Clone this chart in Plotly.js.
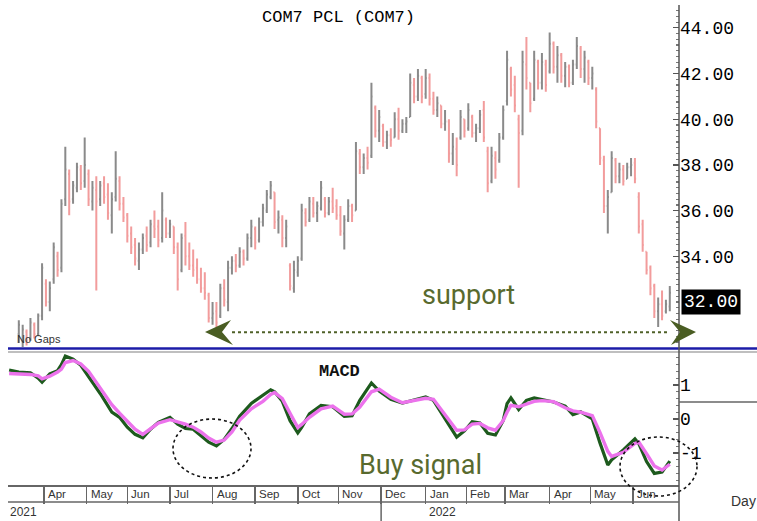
<!DOCTYPE html>
<html><head><meta charset="utf-8">
<script src="https://cdn.plot.ly/plotly-3.0.1.min.js"></script>
<style>html,body{margin:0;padding:0;background:#fff;}#chart{width:757px;height:521px;}</style>
</head><body><div id="chart"></div>
<script>
// ---------- DATA ----------
const dates = [
'2021-03-15','2021-03-17','2021-03-19','2021-03-23','2021-03-25',
'2021-03-29','2021-03-31','2021-04-02','2021-04-06','2021-04-08',
'2021-04-12','2021-04-14','2021-04-16','2021-04-20','2021-04-22',
'2021-04-26','2021-04-28','2021-04-30','2021-05-04','2021-05-06',
'2021-05-10','2021-05-12','2021-05-14','2021-05-18','2021-05-20',
'2021-05-24','2021-05-26','2021-05-28','2021-06-01','2021-06-03',
'2021-06-07','2021-06-09','2021-06-11','2021-06-15','2021-06-17',
'2021-06-21','2021-06-23','2021-06-25','2021-06-29','2021-07-01',
'2021-07-05','2021-07-07','2021-07-09','2021-07-13','2021-07-15',
'2021-07-19','2021-07-21','2021-07-23','2021-07-27','2021-07-29',
'2021-08-02','2021-08-04','2021-08-06','2021-08-10','2021-08-12',
'2021-08-16','2021-08-18','2021-08-20','2021-08-24','2021-08-26',
'2021-08-30','2021-09-01','2021-09-03','2021-09-07','2021-09-09',
'2021-09-13','2021-09-15','2021-09-17','2021-09-21','2021-09-23',
'2021-09-27','2021-09-29','2021-10-01','2021-10-05','2021-10-07',
'2021-10-11','2021-10-13','2021-10-15','2021-10-19','2021-10-21',
'2021-10-25','2021-10-27','2021-10-29','2021-11-02','2021-11-04',
'2021-11-08','2021-11-10','2021-11-12','2021-11-16','2021-11-18',
'2021-11-22','2021-11-24','2021-11-26','2021-11-30','2021-12-02',
'2021-12-06','2021-12-08','2021-12-10','2021-12-14','2021-12-16',
'2021-12-20','2021-12-22','2021-12-24','2021-12-28','2021-12-30',
'2022-01-03','2022-01-05','2022-01-07','2022-01-11','2022-01-13',
'2022-01-17','2022-01-19','2022-01-21','2022-01-25','2022-01-27',
'2022-01-31','2022-02-02','2022-02-04','2022-02-08','2022-02-10',
'2022-02-14','2022-02-16','2022-02-18','2022-02-22','2022-02-24',
'2022-02-28','2022-03-02','2022-03-04','2022-03-08','2022-03-10',
'2022-03-14','2022-03-16','2022-03-18','2022-03-22','2022-03-24',
'2022-03-28','2022-03-30','2022-04-01','2022-04-05','2022-04-07',
'2022-04-11','2022-04-13','2022-04-15','2022-04-19','2022-04-21',
'2022-04-25','2022-04-27','2022-04-29','2022-05-03','2022-05-05',
'2022-05-09','2022-05-11','2022-05-13','2022-05-17','2022-05-19',
'2022-05-23','2022-05-25','2022-05-27','2022-05-31','2022-06-02',
'2022-06-06','2022-06-08','2022-06-10','2022-06-14','2022-06-16',
'2022-06-20','2022-06-22','2022-06-24','2022-06-28'];

const openP = [
30.6,30.3,30.7,30.4,31.0, 30.6,31.4,32.8,32.0,33.0, 34.0,33.5,36.5,37.6,36.5,
37.0,37.8,37.3,37.6,36.4, 36.9,36.5,37.2,36.7,35.8, 36.6,37.3,36.3,35.8,35.0,
34.5,33.8,34.3,34.9,34.6, 35.3,35.3,34.8,35.6,35.0, 35.3,34.4,33.4,34.9,34.0,
33.6,33.5,33.0,32.6,32.3, 31.3,31.6,31.4,32.6,32.0, 33.5,33.8,33.6,34.2,33.9,
34.8,35.2,34.7,35.5,36.0, 36.6,36.8,35.6,35.6,34.8, 33.6,32.6,33.3,33.9,35.9,
35.6,36.3,35.9,36.1,36.5, 35.9,36.4,36.2,35.8,35.0, 35.6,36.2,36.0,38.5,37.9,
38.3,38.4,40.5,39.5,39.7, 39.0,39.3,39.2,40.0,39.5, 39.8,40.1,41.5,41.0,41.8,
41.1,41.8,40.9,40.4,40.6, 39.8,39.9,38.5,38.7,39.2, 40.0,39.6,40.1,39.4,39.6,
40.4,38.6,37.3,38.3,38.2, 39.2,40.8,42.2,41.5,40.0, 39.5,42.4,41.6,40.9,42.5,
41.6,42.4,42.1,43.3,42.3, 42.8,41.9,42.3,41.6,42.4, 43.1,42.2,42.5,41.8,41.3,
39.6,38.2,36.2,36.8,38.2, 37.5,37.8,37.4,37.9,38.1, 36.6,35.4,34.2,33.5,32.7,
31.6,31.9,31.6,31.8];

const highP = [
31.2,31.0,30.8,31.3,31.1, 31.5,33.7,33.0,32.9,34.6, 34.2,36.5,38.8,37.8,37.3,
38.1,38.0,39.2,37.8,37.3, 37.5,37.3,37.5,37.2,36.8, 38.6,37.5,36.6,35.9,35.3,
34.8,34.6,35.0,35.3,35.6, 36.0,35.6,36.8,35.7,35.6, 35.3,34.6,35.0,35.5,34.6,
34.3,33.9,33.5,33.3,32.4, 32.0,32.0,32.8,33.0,33.8, 34.0,34.1,34.4,34.3,35.0,
35.6,35.3,35.7,36.3,36.9, 37.3,36.8,36.0,35.8,35.6, 33.7,33.8,34.0,36.3,36.1,
36.6,36.6,36.4,37.3,36.6, 36.6,37.0,36.5,36.2,35.8, 36.5,36.3,39.0,38.7,38.5,
38.8,41.6,40.6,40.4,39.8, 39.5,39.6,40.3,40.5,40.0, 40.1,42.0,41.8,42.2,41.9,
42.2,42.0,41.2,41.0,40.6, 40.4,40.0,39.4,39.2,40.4, 40.0,40.7,40.2,39.8,40.4,
40.8,38.8,38.8,38.6,39.4, 40.6,43.0,42.3,41.9,40.2, 43.0,43.6,41.6,43.0,42.6,
42.9,42.6,43.8,43.4,43.2, 42.9,42.5,42.4,42.6,43.6, 43.2,43.0,42.6,42.3,41.4,
39.6,38.4,36.9,38.6,38.3, 38.1,38.0,38.1,38.3,38.3, 36.8,35.6,34.2,33.6,32.8,
32.2,32.5,32.1,32.7];

const lowP = [
30.2,30.0,30.1,30.3,30.4, 30.5,31.2,31.8,31.6,32.8, 33.1,33.3,36.2,35.8,36.3,
36.8,36.9,37.0,36.2,36.0, 32.5,36.2,36.3,35.6,35.0, 36.4,36.0,35.5,34.6,34.1,
33.6,33.4,34.1,34.2,34.4, 34.8,34.4,34.6,34.8,34.8, 34.1,32.5,33.3,33.6,33.4,
33.1,32.8,32.4,32.1,31.1, 31.0,30.9,31.3,31.8,31.6, 33.2,33.3,33.5,33.6,33.8,
34.4,34.3,34.6,35.3,35.9, 36.5,35.2,35.0,34.4,34.4, 32.5,32.4,33.1,33.8,35.3,
35.5,35.7,35.5,36.0,35.7, 35.8,35.9,35.6,34.9,34.3, 35.5,35.5,36.0,37.6,37.6,
37.8,38.3,39.2,39.0,38.8, 38.7,38.8,39.2,39.1,39.4, 39.4,40.1,40.7,40.8,40.7,
40.9,40.6,40.2,40.1,39.6, 39.5,38.1,38.0,37.5,39.1, 39.2,39.5,39.2,39.0,39.4,
39.0,36.8,37.2,37.4,38.1, 39.1,40.6,41.0,40.3,37.0, 39.3,41.3,40.3,40.8,41.3,
41.3,41.2,42.0,42.0,41.6, 41.6,41.4,41.4,41.5,42.2, 41.8,41.6,41.5,41.3,39.6,
38.0,35.9,35.0,36.8,37.2, 37.2,37.1,37.4,37.5,37.2, 35.0,34.2,33.2,32.3,31.3,
30.9,31.2,31.5,31.6];

const closeP = [
31.0,30.8,30.3,31.1,30.6, 31.4,33.5,32.0,32.6,34.4, 33.4,36.3,37.8,36.4,37.1,
37.9,37.2,38.0,36.5,37.0, 36.4,37.1,36.6,35.9,36.5, 37.4,36.3,35.7,34.9,34.4,
33.9,34.3,34.8,34.5,35.4, 35.2,34.7,36.0,35.0,35.4, 34.4,33.0,34.8,34.0,33.6,
33.4,33.0,32.6,32.4,31.3, 31.5,31.1,32.6,32.1,33.5, 33.8,33.6,34.2,33.9,34.8,
35.3,34.6,35.5,36.1,36.7, 37.1,35.5,35.7,34.8,35.3, 32.7,33.4,33.8,36.0,35.5,
36.4,35.9,36.2,37.0,35.9, 36.4,36.1,35.8,35.1,35.6, 36.2,35.8,38.6,37.9,38.3,
38.1,41.0,39.5,40.1,39.0, 39.3,39.1,40.0,39.5,39.8, 39.9,41.6,41.0,41.9,41.0,
41.8,40.9,40.4,40.7,39.8, 39.9,38.5,38.8,38.0,40.1, 39.5,40.4,39.4,39.6,40.2,
39.2,37.2,38.4,37.8,39.2, 40.4,42.6,41.3,40.6,39.4, 42.5,41.8,40.7,42.6,41.6,
42.5,41.5,43.3,42.3,42.8, 41.9,42.3,41.6,42.4,43.2, 42.2,42.7,41.8,42.0,39.9,
38.3,36.2,36.6,38.3,37.5, 37.8,37.3,37.9,38.0,37.4, 35.3,34.5,33.4,32.6,31.6,
31.9,31.4,31.9,32.4];

const macdDates = [
'2021-03-08','2021-03-15','2021-03-23','2021-03-29','2021-03-31','2021-04-06','2021-04-12','2021-04-14','2021-04-16','2021-04-22',
'2021-04-28','2021-05-04','2021-05-12','2021-05-20','2021-05-26','2021-06-01','2021-06-07','2021-06-11','2021-06-17','2021-06-23',
'2021-07-01','2021-07-07','2021-07-13','2021-07-19','2021-07-23','2021-07-29','2021-08-04','2021-08-10','2021-08-16','2021-08-20',
'2021-08-30','2021-09-07','2021-09-13','2021-09-15','2021-09-21','2021-09-27','2021-10-01','2021-10-05','2021-10-11','2021-10-19',
'2021-10-27','2021-11-04','2021-11-10','2021-11-16','2021-11-22','2021-11-24','2021-11-30','2021-12-08','2021-12-16','2021-12-24',
'2022-01-03','2022-01-07','2022-01-13','2022-01-19','2022-01-25','2022-01-31','2022-02-04','2022-02-10','2022-02-16','2022-02-22',
'2022-02-28','2022-03-02','2022-03-04','2022-03-10','2022-03-16','2022-03-22','2022-03-28','2022-04-05','2022-04-13','2022-04-19',
'2022-04-25','2022-05-03','2022-05-09','2022-05-13','2022-05-17','2022-05-25','2022-06-02','2022-06-06','2022-06-10','2022-06-16',
'2022-06-22','2022-06-28'];

const macdLine = [
1.44,1.38,1.36,1.20,1.08,1.33,1.42,1.60,1.85,1.76,
1.58,1.25,0.75,0.20,0.05,-0.24,-0.45,-0.55,-0.30,-0.10,
0.05,-0.15,-0.28,-0.30,-0.48,-0.68,-0.79,-0.60,-0.28,0.08,
0.46,0.71,0.86,0.80,0.52,-0.05,-0.41,-0.25,0.15,0.40,
0.36,0.08,0.10,0.55,0.90,1.06,0.82,0.58,0.47,0.56,
0.65,0.55,0.18,-0.20,-0.53,-0.35,-0.08,-0.12,-0.42,-0.47,
-0.05,0.45,0.62,0.28,0.55,0.62,0.58,0.50,0.38,0.13,
0.21,0.00,-0.71,-1.35,-1.20,-0.91,-0.58,-0.72,-1.25,-1.60,
-1.56,-1.24];

const signalLine = [
1.34,1.33,1.31,1.27,1.18,1.26,1.38,1.47,1.66,1.72,
1.62,1.40,0.90,0.42,0.17,-0.07,-0.30,-0.45,-0.30,-0.12,
-0.02,-0.08,-0.15,-0.24,-0.38,-0.56,-0.68,-0.62,-0.38,-0.03,
0.30,0.52,0.72,0.78,0.60,0.17,-0.25,-0.16,0.05,0.30,
0.38,0.14,0.15,0.35,0.65,0.80,0.88,0.64,0.48,0.55,
0.61,0.58,0.28,-0.05,-0.33,-0.32,-0.15,-0.13,-0.26,-0.33,
-0.05,0.20,0.40,0.36,0.45,0.52,0.54,0.51,0.33,0.24,
0.20,0.10,-0.40,-0.95,-1.10,-0.98,-0.72,-0.68,-1.02,-1.38,
-1.50,-1.33];

const monthStarts = ['2021-04-01','2021-05-03','2021-06-01','2021-07-01','2021-08-02','2021-09-01','2021-10-01','2021-11-01','2021-12-01','2022-01-03','2022-02-01','2022-03-01','2022-04-01','2022-05-02','2022-06-01'];
const monthLabels = ['Apr','May','Jun','Jul','Aug','Sep','Oct','Nov','Dec','Jan','Feb','Mar','Apr','May','Jun'];
const yearLabels = ['2021','2022'];
const priceTicks = [34,36,38,40,42,44];
const priceTickText = ['34.00','36.00','38.00','40.00','42.00','44.00'];
const macdTicks = [-1,0,1];
const macdTickText = ['-1','0','1'];
const lastPrice = 32.00;
const lastPriceText = '32.00';
const supportLevel = 30.68;

// ---------- LAYOUT HELPERS ----------
const W = 757, H = 521;
const PX = v => v / W;
const PY = v => 1 - v / H;
function path(pts){ return 'M ' + pts.map(p => PX(p[0]).toFixed(5) + ',' + PY(p[1]).toFixed(5)).join(' L ') + ' Z'; }

const olive = '#586a2e';
const axisGray = '#666';

const traces = [
  {type:'ohlc', x:dates, open:openP, high:highP, low:lowP, close:closeP, xaxis:'x', yaxis:'y',
   increasing:{line:{color:'#8a8a8a', width:2}}, decreasing:{line:{color:'#f29c9c', width:2}},
   tickwidth:0.3, hoverinfo:'skip', showlegend:false},
  {type:'scatter', mode:'lines', x:macdDates, y:macdLine, xaxis:'x', yaxis:'y2',
   line:{color:'#1d5a1d', width:3.2}, hoverinfo:'skip', showlegend:false},
  {type:'scatter', mode:'lines', x:macdDates, y:signalLine, xaxis:'x', yaxis:'y2',
   line:{color:'#ec72ec', width:3.4}, hoverinfo:'skip', showlegend:false}
];

const shapes = [
  {type:'line', xref:'paper', yref:'paper', x0:PX(8), x1:1, y0:PY(348.5), y1:PY(348.5), line:{color:'#1c1ca8', width:2.5}},
  {type:'line', xref:'paper', yref:'paper', x0:PX(8), x1:1, y0:PY(352), y1:PY(352), line:{color:'#aaaaaa', width:1.5}},
  {type:'line', xref:'paper', yref:'paper', x0:PX(679), x1:PX(679), y0:PY(5), y1:0, line:{color:'#555', width:1.5}},
  {type:'line', xref:'paper', yref:'paper', x0:PX(679), x1:1, y0:PY(402), y1:PY(402), line:{color:axisGray, width:1.5}},
  {type:'line', xref:'paper', yref:'paper', x0:PX(8), x1:PX(679), y0:PY(502), y1:PY(502), line:{color:axisGray, width:1.5}},
  {type:'line', xref:'x', yref:'paper', x0:monthStarts[8], x1:monthStarts[8], y0:PY(485), y1:0, line:{color:axisGray, width:1.5}},
  {type:'line', xref:'paper', yref:'y', x0:PX(232), x1:PX(668), y0:supportLevel, y1:supportLevel, line:{color:'#4f6128', width:2, dash:'dot'}},
  {type:'path', xref:'paper', yref:'paper', path:path([[205,332],[231,320],[222,332],[233,345]]), fillcolor:'#4a5d23', line:{width:0}},
  {type:'path', xref:'paper', yref:'paper', path:path([[696,332],[670,320],[680,332],[671,345]]), fillcolor:'#4a5d23', line:{width:0}},
  {type:'circle', xref:'paper', yref:'paper', x0:PX(173), x1:PX(251), y0:PY(478), y1:PY(419), line:{color:'#111', width:1.6, dash:'dot'}},
  {type:'circle', xref:'paper', yref:'paper', x0:PX(620), x1:PX(697), y0:PY(496), y1:PY(437), line:{color:'#111', width:1.6, dash:'dot'}}
];

const ann = [
  {xref:'paper', yref:'paper', x:PX(338), y:PY(17), text:'COM7 PCL (COM7)', showarrow:false, xanchor:'center', yanchor:'middle',
   font:{family:'Liberation Mono', size:17, color:'#000'}},
  {xref:'paper', yref:'paper', x:PX(339), y:PY(372), text:'<b>MACD</b>', showarrow:false, xanchor:'center', yanchor:'middle',
   font:{family:'Liberation Mono', size:17, color:'#111'}},
  {xref:'paper', yref:'paper', x:PX(468), y:PY(295), text:'support', showarrow:false, xanchor:'center', yanchor:'middle',
   font:{family:'Roboto', size:27, color:olive}},
  {xref:'paper', yref:'paper', x:PX(420), y:PY(465), text:'Buy signal', showarrow:false, xanchor:'center', yanchor:'middle',
   font:{family:'Roboto', size:27, color:olive}},
  {xref:'paper', yref:'paper', x:PX(15), y:PY(339), text:'No Gaps', showarrow:false, xanchor:'left', yanchor:'middle',
   font:{family:'Liberation Sans', size:11, color:'#333'}},
  {xref:'paper', yref:'y', x:PX(681), y:lastPrice, text:lastPriceText, showarrow:false, xanchor:'left', yanchor:'middle',
   bgcolor:'#000', borderpad:2, font:{family:'Liberation Mono', size:18, color:'#fff'}},
  {xref:'paper', yref:'paper', x:PX(743), y:PY(501), text:'Day', showarrow:false, xanchor:'center', yanchor:'middle',
   font:{family:'Liberation Sans', size:14, color:'#333'}},
  {xref:'paper', yref:'paper', x:PX(8), y:PY(512), text:yearLabels[0], showarrow:false, xanchor:'left', yanchor:'middle',
   font:{family:'Liberation Sans', size:12, color:'#333'}},
  {xref:'x', yref:'paper', x:monthStarts[9], xshift:1, y:PY(512), text:yearLabels[1], showarrow:false, xanchor:'left', yanchor:'middle',
   font:{family:'Liberation Sans', size:12, color:'#333'}}
];
monthStarts.forEach((d, i) => {
  ann.push({xref:'x', yref:'paper', x:d, xshift:2, y:PY(494), text:monthLabels[i], showarrow:false, xanchor:'left', yanchor:'middle',
    font:{family:'Liberation Sans', size:11.5, color:'#333'}});
});

const layout = {
  width:W, height:H, margin:{l:0, r:0, t:0, b:0}, paper_bgcolor:'#fff', plot_bgcolor:'#fff', showlegend:false,
  xaxis:{type:'date', domain:[PX(8), PX(679)], range:['2021-03-05 10:00','2022-07-04 18:00'],
    rangebreaks:[{bounds:['sat','mon']}], anchor:'y2', showgrid:false, zeroline:false,
    showline:true, linecolor:axisGray, linewidth:1.5, ticks:'outside', ticklen:17, tickwidth:1.5, tickcolor:axisGray,
    tickmode:'array', tickvals:monthStarts, showticklabels:false, rangeslider:{visible:false}, fixedrange:true},
  yaxis:{domain:[PY(347), PY(5)], range:[30.03, 45.0], side:'right', anchor:'x', showgrid:false, zeroline:false, showline:false,
    tickmode:'array', tickvals:priceTicks, ticktext:priceTickText, ticks:'inside', ticklen:6, tickwidth:1.2, tickcolor:'#555',
    tickfont:{family:'Liberation Mono', size:18, color:'#000'},
    minor:{tickmode:'linear', tick0:0, dtick:0.25, ticks:'inside', ticklen:3, tickcolor:'#777', showgrid:false}, fixedrange:true},
  yaxis2:{domain:[PY(485), PY(352)], range:[-1.94, 1.97], side:'right', anchor:'x', showgrid:false, zeroline:false, showline:false,
    tickmode:'array', tickvals:macdTicks, ticktext:macdTickText, ticks:'inside', ticklen:6, tickwidth:1.2, tickcolor:'#555',
    tickfont:{family:'Liberation Mono', size:18, color:'#000'},
    minor:{tickmode:'linear', tick0:0, dtick:0.2, ticks:'inside', ticklen:3, tickcolor:'#777', showgrid:false}, fixedrange:true},
  shapes:shapes,
  annotations:ann
};

Plotly.newPlot('chart', traces, layout, {staticPlot:true, displayModeBar:false});
</script>
</body></html>
